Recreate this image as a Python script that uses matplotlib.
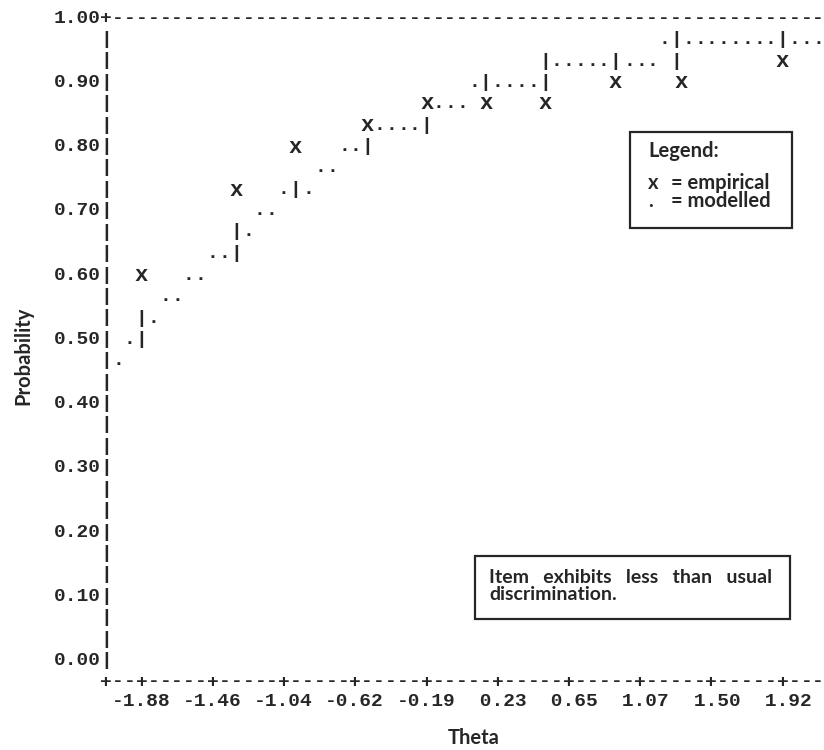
import matplotlib.pyplot as plt
import matplotlib.patches as patches
import numpy as np

plt.rcParams['font.family'] = ['Liberation Mono', 'DejaVu Sans Mono']

# axis ticks
theta_ticks = [-1.88, -1.46, -1.04, -0.62, -0.19, 0.23, 0.65, 1.07, 1.50, 1.92]
prob_ticks = [0.0, 0.1, 0.2, 0.3, 0.4, 0.5, 0.6, 0.7, 0.8, 0.9, 1.0]

# empirical points (x)
emp_theta = [-1.88, -1.32, -0.97, -0.54, -0.19, 0.16, 0.51, 0.93, 1.32, 1.92]
emp_prob = [0.600, 0.733, 0.800, 0.833, 0.867, 0.867, 0.867, 0.900, 0.900, 0.933]

# modelled curve (.)
model_theta = [-2.02, -1.95, -1.81, -1.74, -1.67, -1.60, -1.53, -1.46, -1.39, -1.25,
               -1.18, -1.11, -1.04, -0.89, -0.82, -0.75, -0.68, -0.61,
               -0.47, -0.40, -0.33, -0.26, -0.12, -0.05, 0.02,
               0.09, 0.23, 0.30, 0.37, 0.44,
               0.58, 0.65, 0.72, 0.79, 0.86, 1.01, 1.08, 1.15,
               1.22, 1.36, 1.43, 1.50, 1.57, 1.64, 1.71, 1.78, 1.85, 1.99, 2.06, 2.13]
model_prob = [0.467, 0.500, 0.533, 0.567, 0.567, 0.600, 0.600, 0.633, 0.633, 0.667,
              0.700, 0.700, 0.733, 0.733, 0.767, 0.767, 0.800, 0.800,
              0.833, 0.833, 0.833, 0.833, 0.867, 0.867, 0.867,
              0.900, 0.900, 0.900, 0.900, 0.900,
              0.933, 0.933, 0.933, 0.933, 0.933, 0.933, 0.933, 0.933,
              0.967, 0.967, 0.967, 0.967, 0.967, 0.967, 0.967, 0.967, 0.967, 0.967, 0.967, 0.967]

# vertical steps of the modelled curve (|)
step_theta = [-1.88, -1.88, -1.32, -1.32, -0.97, -0.54, -0.19, 0.16, 0.51, 0.51, 0.93, 1.29, 1.29, 1.92]
step_prob = [0.500, 0.533, 0.633, 0.667, 0.733, 0.800, 0.833, 0.900, 0.900, 0.933, 0.933, 0.933, 0.967, 0.967]

# character grid: 6 columns per x tick, 3 rows per y tick
dx = np.diff(theta_ticks).mean() / 6
dy = (prob_ticks[1] - prob_ticks[0]) / 3
x_left = theta_ticks[0] - 3 * dx
y_bot = prob_ticks[0] - dy

fig = plt.figure(figsize=(8.24, 7.5), dpi=100)
ax = fig.add_axes([106 / 824, 70 / 750, 718 / 824, 664 / 750])
ax.set_xlim(x_left, x_left + 718 / 11.87 * dx)
ax.set_ylim(y_bot, prob_ticks[-1])
for s in ax.spines.values():
    s.set_visible(False)

ink = '#262626'
mono = dict(fontsize=14, fontweight='bold', ha='center', va='center_baseline', color=ink)

# frame made of characters, like the text plot
n_cols = int(round((ax.get_xlim()[1] - x_left) / dx))
for c in range(1, n_cols + 1):
    t = x_left + c * dx
    ax.text(t, prob_ticks[-1], '-', **mono)
    ch = '+' if np.min(np.abs(np.array(theta_ticks) - t)) < dx / 2 else '-'
    ax.text(t, y_bot, ch, **mono)
for r in range(0, 30):
    ax.text(x_left, prob_ticks[0] + r * dy, '|', **mono)
ax.text(x_left, prob_ticks[-1], '+', **mono)
ax.text(x_left, y_bot, '+', **mono)

# data
for t, p in zip(model_theta, model_prob):
    ax.text(t, p, '.', **mono)
for t, p in zip(step_theta, step_prob):
    ax.text(t, p, '|', **mono)
for t, p in zip(emp_theta, emp_prob):
    ax.text(t, p, 'x', **{**mono, 'fontsize': 16})

ax.set_xticks(theta_ticks, [f'{v:5.2f}' for v in theta_ticks])
ax.set_yticks(prob_ticks, [f'{v:.2f}' for v in prob_ticks])
ax.tick_params(axis='x', length=0, pad=9, labelsize=14, labelcolor=ink)
ax.tick_params(axis='y', length=0, pad=4, labelsize=14, labelcolor=ink)
for lab in ax.get_xticklabels() + ax.get_yticklabels():
    lab.set_fontweight('bold')

sans = dict(family='Lato', fontweight='bold', color=ink)
fig.text(23 / 824, 1 - 356 / 750, 'Probability', rotation=90, ha='center', va='center', fontsize=14.5, **sans)
fig.text(474 / 824, 1 - 738 / 750, 'Theta', ha='center', va='center', fontsize=14.5, **sans)

# legend box
fig.patches.append(patches.Rectangle((630 / 824, 1 - 228 / 750), 162 / 824, 96 / 750,
                                     transform=fig.transFigure, fill=False, lw=1.6, ec=ink))
fig.text(648 / 824, 1 - 151 / 750, 'Legend:', ha='left', va='center', fontsize=14.5, **sans)
fig.text(648 / 824, 1 - 192 / 750, 'x\n.', ha='left', va='center', fontsize=14.5,
         linespacing=0.85, **sans)
fig.text(671 / 824, 1 - 192 / 750, '= empirical\n= modelled', ha='left', va='center', fontsize=14.5,
         linespacing=0.85, **sans)

# note box
fig.patches.append(patches.Rectangle((475 / 824, 1 - 619 / 750), 315 / 824, 63 / 750,
                                     transform=fig.transFigure, fill=False, lw=1.6, ec=ink))
fig.text(489 / 824, 1 - 586 / 750, 'Item   exhibits   less   than   usual\ndiscrimination.',
         ha='left', va='center', fontsize=14, linespacing=0.95, **sans)

fig.savefig('out.png', dpi=100)
